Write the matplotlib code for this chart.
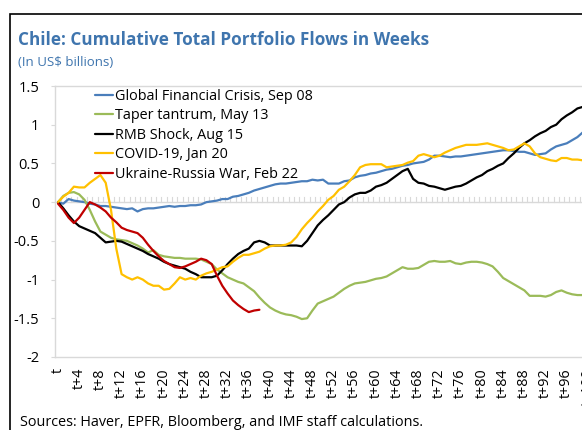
import matplotlib
matplotlib.use("Agg")
import matplotlib.pyplot as plt
from matplotlib.patches import Rectangle

plt.rcParams['font.family'] = ['Open Sans', 'DejaVu Sans']

# ---------------- data (weekly, t = 0) ----------------
gfc = [0, -0.02, 0.04, 0.02, 0.01, 0.0, -0.02, -0.03, -0.05, -0.05, -0.06, -0.07, -0.08, -0.09, -0.08,
       -0.12, -0.09, -0.08, -0.08, -0.07, -0.06, -0.05, -0.06, -0.05, -0.05, -0.04, -0.04, -0.03, 0.0, 0.01,
       0.02, 0.04, 0.04, 0.07, 0.08, 0.10, 0.12, 0.15, 0.17, 0.19, 0.21, 0.23, 0.24, 0.24, 0.25, 0.26,
       0.27, 0.27, 0.29, 0.28, 0.29, 0.24, 0.24, 0.24, 0.27, 0.28, 0.32, 0.34, 0.35, 0.37, 0.38, 0.40,
       0.42, 0.43, 0.45, 0.47, 0.48, 0.50, 0.51, 0.52, 0.55, 0.60, 0.60, 0.59, 0.58, 0.59, 0.59, 0.60,
       0.61, 0.62, 0.63, 0.64, 0.65, 0.66, 0.67, 0.67, 0.66, 0.65, 0.65, 0.63, 0.61, 0.62, 0.63, 0.68,
       0.72, 0.74, 0.76, 0.80, 0.84, 0.90, 0.95]
taper = [0, 0.08, 0.12, 0.13, 0.10, 0.03, -0.10, -0.25, -0.38, -0.42, -0.46, -0.48, -0.49, -0.50, -0.53,
         -0.56, -0.60, -0.65, -0.62, -0.68, -0.70, -0.71, -0.72, -0.72, -0.73, -0.73, -0.73, -0.74, -0.77,
         -0.80, -0.87, -0.92, -0.97, -1.00, -1.03, -1.05, -1.10, -1.15, -1.23, -1.30, -1.36, -1.40, -1.43,
         -1.45, -1.46, -1.48, -1.51, -1.50, -1.40, -1.31, -1.28, -1.25, -1.22, -1.17, -1.12, -1.08, -1.05,
         -1.04, -1.03, -1.01, -0.99, -0.98, -0.96, -0.92, -0.88, -0.84, -0.86, -0.86, -0.85, -0.81, -0.77,
         -0.76, -0.77, -0.77, -0.76, -0.79, -0.80, -0.78, -0.77, -0.77, -0.78, -0.80, -0.83, -0.90, -0.98,
         -1.02, -1.06, -1.10, -1.14, -1.21, -1.21, -1.21, -1.22, -1.20, -1.16, -1.14, -1.17, -1.19, -1.20,
         -1.20, -1.20]
rmb = [0, -0.08, -0.17, -0.25, -0.31, -0.34, -0.37, -0.40, -0.46, -0.52, -0.51, -0.50, -0.51, -0.54, -0.57,
       -0.60, -0.63, -0.67, -0.70, -0.73, -0.77, -0.80, -0.82, -0.84, -0.86, -0.90, -0.93, -0.97, -0.97,
       -0.97, -0.95, -0.88, -0.80, -0.73, -0.67, -0.63, -0.60, -0.52, -0.50, -0.52, -0.56, -0.56, -0.56,
       -0.56, -0.56, -0.56, -0.57, -0.50, -0.40, -0.30, -0.23, -0.17, -0.10, -0.03, 0.0, 0.06, 0.10, 0.12,
       0.12, 0.15, 0.20, 0.22, 0.25, 0.30, 0.35, 0.40, 0.43, 0.30, 0.25, 0.24, 0.21, 0.20, 0.18, 0.16,
       0.18, 0.20, 0.21, 0.24, 0.28, 0.32, 0.35, 0.40, 0.43, 0.47, 0.50, 0.57, 0.63, 0.70, 0.76, 0.80,
       0.85, 0.89, 0.92, 0.97, 1.00, 1.07, 1.12, 1.16, 1.21, 1.23, 1.25]
covid = [0, 0.07, 0.12, 0.20, 0.19, 0.19, 0.25, 0.30, 0.35, 0.25, -0.10, -0.60, -0.93, -0.97, -1.00,
         -0.97, -1.00, -1.05, -1.08, -1.08, -1.13, -1.12, -1.05, -0.97, -1.00, -0.98, -1.00, -0.95, -0.92,
         -0.90, -0.87, -0.84, -0.83, -0.77, -0.72, -0.68, -0.68, -0.66, -0.64, -0.60, -0.57, -0.56, -0.56,
         -0.55, -0.52, -0.45, -0.35, -0.27, -0.20, -0.12, -0.05, 0.03, 0.08, 0.16, 0.20, 0.27, 0.35, 0.45,
         0.48, 0.49, 0.49, 0.49, 0.45, 0.46, 0.47, 0.48, 0.51, 0.53, 0.60, 0.62, 0.60, 0.58, 0.60, 0.64,
         0.67, 0.70, 0.72, 0.74, 0.74, 0.74, 0.75, 0.76, 0.74, 0.72, 0.70, 0.67, 0.68, 0.72, 0.76, 0.72,
         0.63, 0.58, 0.56, 0.54, 0.53, 0.57, 0.57, 0.55, 0.55, 0.54, 0.54]
ukraine = [-0.02, -0.10, -0.20, -0.27, -0.20, -0.10, 0.0, -0.03, -0.07, -0.12, -0.20, -0.26, -0.33, -0.36,
           -0.38, -0.40, -0.46, -0.55, -0.63, -0.70, -0.76, -0.80, -0.84, -0.85, -0.83, -0.80, -0.77, -0.73,
           -0.75, -0.80, -0.95, -1.08, -1.18, -1.27, -1.33, -1.38, -1.42, -1.40, -1.39]

series = [
    ("Global Financial Crisis, Sep 08", gfc, "#4A7EBB"),
    ("Taper tantrum, May 13", taper, "#9BBB59"),
    ("RMB Shock, Aug 15", rmb, "#000000"),
    ("COVID-19, Jan 20", covid, "#FFC000"),
    ("Ukraine-Russia War, Feb 22", ukraine, "#C00000"),
]
n_weeks = 105
tick_weeks = list(range(0, n_weeks, 4))
tick_labels = ["t" if w == 0 else f"t+{w}" for w in tick_weeks]
y_ticks = [-2, -1.5, -1, -0.5, 0, 0.5, 1, 1.5]
y_labels = ["-2", "-1.5", "-1", "-0.5", "0", "0.5", "1", "1.5"]

# ---------------- figure ----------------
W, H = 582, 430
fig = plt.figure(figsize=(W / 100, H / 100), dpi=100)

px_per_week = 5.3
left_px = 55.35
top_px, bottom_px = 86, 357
ax_w_px = n_weeks * px_per_week
ax_h_px = bottom_px - top_px
ax = fig.add_axes([left_px / W, (H - bottom_px) / H, ax_w_px / W, ax_h_px / H])
ax.set_xlim(-0.5, n_weeks - 0.5)
ax.set_ylim(-2, 1.5)

for name, vals, col in series:
    ax.plot(range(len(vals)), vals, color=col, lw=1.6, label=name, solid_capstyle='round', zorder=3)

gray = "#D9D9D9"
for s in ["top", "left", "bottom"]:
    ax.spines[s].set_color(gray)
    ax.spines[s].set_linewidth(1.0)
ax.spines["right"].set_visible(False)

# horizontal axis line at zero with small weekly ticks
ax.axhline(0, color=gray, lw=1.0, zorder=1)
for k in range(n_weeks):
    ax.plot([k + 0.5, k + 0.5], [0, 0.07], color=gray, lw=0.8, zorder=1)

ax.set_yticks(y_ticks)
ax.set_yticklabels(y_labels, fontsize=10.5, color="#000000")
ax.tick_params(axis="y", length=3, color=gray, pad=8.5)
ax.set_xticks(tick_weeks)
ax.set_xticklabels(tick_labels, rotation=90, fontsize=10.3, color="#000000")
ax.tick_params(axis="x", length=0, pad=8)

leg = ax.legend(loc="upper left",
                bbox_to_anchor=((95 - left_px) / ax_w_px, 1 - (89 - top_px) / ax_h_px),
                frameon=False, fontsize=10.4, handlelength=1.25, handletextpad=0.15,
                labelspacing=0.31, borderaxespad=0, borderpad=0)

# titles
title_col = "#3F75AE"
fig.text(18 / W, (H - 45) / H, "Chile: Cumulative Total Portfolio Flows in Weeks",
         fontsize=12.3, fontweight="bold", color=title_col, va="baseline", ha="left")
fig.text(18 / W, (H - 66) / H, "(In US$ billions)", fontsize=9.5, color=title_col,
         va="baseline", ha="left")
fig.text(20 / W, (H - 426) / H, "Sources: Haver, EPFR, Bloomberg, and IMF staff calculations.",
         fontsize=10.4, color="#000000", va="baseline", ha="left")

# outer border (cropped on right and bottom)
fig.patches.append(Rectangle((10 / W, -0.2), 1.2, (H - 14) / H + 0.2, transform=fig.transFigure,
                             fill=False, edgecolor="#000000", lw=1.2))

fig.savefig("out.png", dpi=100)
